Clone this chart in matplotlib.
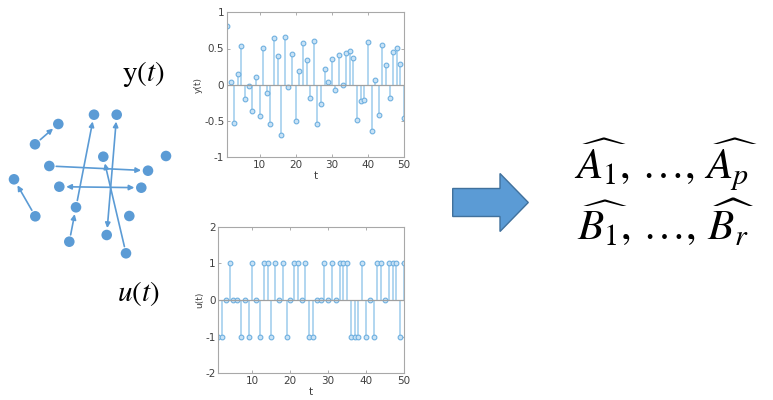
import numpy as np
import matplotlib
matplotlib.use("Agg")
import matplotlib.pyplot as plt
from matplotlib.patches import FancyArrow

plt.rcParams["mathtext.fontset"] = "stix"

# output signal y(t), t = 1..50
t = np.arange(1, 51)
y_vals = [0.81, 0.03, -0.53, 0.15, 0.53, -0.20, -0.02, -0.36, 0.11, -0.43,
          0.51, -0.12, -0.55, 0.64, 0.40, -0.70, 0.66, -0.04, 0.42, -0.51,
          0.19, 0.57, 0.34, -0.19, 0.61, -0.55, -0.27, 0.21, 0.03, 0.36,
          -0.07, 0.41, -0.01, 0.44, 0.46, 0.37, -0.49, -0.23, -0.22, 0.59,
          -0.64, 0.07, -0.42, 0.55, 0.27, -0.18, 0.45, 0.51, 0.29, -0.46]

# input signal u(t)
u_vals = [-1, -1, 0, 1, 0, 0, -1, 0, -1, 1,
          0, -1, 1, 1, -1, 1, 0, 1, -1, 0,
          1, 1, 0, 1, -1, -1, 0, 0, 1, 0,
          1, 0, 1, 1, 1, -1, -1, -1, 1, -1,
          0, -1, 1, 1, 0, 1, 1, 1, -1, 1]

y_ticks = [-1, -0.5, 0, 0.5, 1]
y_tick_labels = ["-1", "-0.5", "0", "0.5", "1"]
u_ticks = [-2, -1, 0, 1, 2]
t_ticks = [10, 20, 30, 40, 50]

# network sketch (pixel layout) and its directed edges
node_x = [58.3, 35, 94, 116.7, 49.3, 103.3, 166, 148, 14, 59.3, 141.3, 76, 35.3, 129.3, 69.3, 106.7, 126]
node_y = [124, 144.3, 114.7, 114.7, 166, 156.7, 156, 170.7, 179.3, 186.7, 187.7, 207.3, 216.3, 216, 241.7, 235, 253.3]
edges = [(1, 0, "-|>"), (4, 7, "-|>"), (9, 10, "<|-|>"), (11, 2, "-|>"),
         (14, 11, "-|>"), (3, 15, "<|-|>"), (16, 5, "-|>"), (12, 8, "-|>")]

stem_c = "#9CCBEC"
mark_edge = "#6FB0E0"
mark_face = "#C9E3F6"
node_c = "#5B9BD5"

fig = plt.figure(figsize=(7.73, 4), dpi=100)

# background canvas in pixel coordinates
bg = fig.add_axes([0, 0, 1, 1])
bg.set_xlim(0, 773)
bg.set_ylim(400, 0)
bg.axis("off")

for a, b, style in edges:
    bg.annotate("", xy=(node_x[b], node_y[b]), xytext=(node_x[a], node_y[a]),
                arrowprops=dict(arrowstyle=style + ",head_length=0.3,head_width=0.15",
                                color=node_c, lw=1.2, shrinkA=5, shrinkB=5))
bg.scatter(node_x, node_y, s=58, color=node_c, zorder=3, edgecolors="none")

bg.text(143, 74, r"$\mathrm{y}(t)$", fontsize=21, ha="center", va="center")
bg.text(138, 293, r"$u(t)$", fontsize=21, ha="center", va="center")

bg.add_patch(FancyArrow(452.7, 202.5, 75.6, 0, width=28, head_width=58, head_length=28.3,
                        length_includes_head=True, facecolor="#5B9BD5", edgecolor="#41719C", lw=1))

bg.text(666, 165, r"$\widehat{A_1},\,\ldots,\,\widehat{A_p}$", fontsize=31, ha="center", va="center")
bg.text(666, 222, r"$\widehat{B_1},\,\ldots,\,\widehat{B_r}$", fontsize=31, ha="center", va="center")


def stem_panel(ax, vals, ylim, yticks, ylabels, ylab):
    ml, sl, bl = ax.stem(t, vals, linefmt="-", markerfmt="o", basefmt="-")
    plt.setp(sl, color=stem_c, lw=1.1)
    plt.setp(ml, markersize=3.4, markerfacecolor=mark_face, markeredgecolor=mark_edge, mew=0.8)
    plt.setp(bl, color="#A0A0A0", lw=0.9)
    ax.set_xlim(1, 50)
    ax.set_ylim(*ylim)
    ax.set_xticks(t_ticks)
    ax.set_yticks(yticks, labels=ylabels)
    ax.tick_params(direction="in", length=2, width=0.6, labelsize=7.5, colors="#A0A0A0",
                   labelcolor="#404040", pad=2, top=True, right=True)
    for s in ax.spines.values():
        s.set_color("#A8A8A8")
        s.set_linewidth(0.8)
    ax.set_xlabel("t", fontsize=7.5, color="#404040", labelpad=1)
    ax.set_ylabel(ylab, fontsize=6.5, color="#404040", labelpad=1)


ax_y = fig.add_axes([0.2937, 0.608, 0.229, 0.361])
stem_panel(ax_y, y_vals, (-1, 1), y_ticks, y_tick_labels, "y(t)")

ax_u = fig.add_axes([0.2824, 0.0668, 0.2402, 0.3665])
stem_panel(ax_u, u_vals, (-2, 2), u_ticks, [str(v) for v in u_ticks], "u(t)")

fig.savefig("out.png", dpi=100)
